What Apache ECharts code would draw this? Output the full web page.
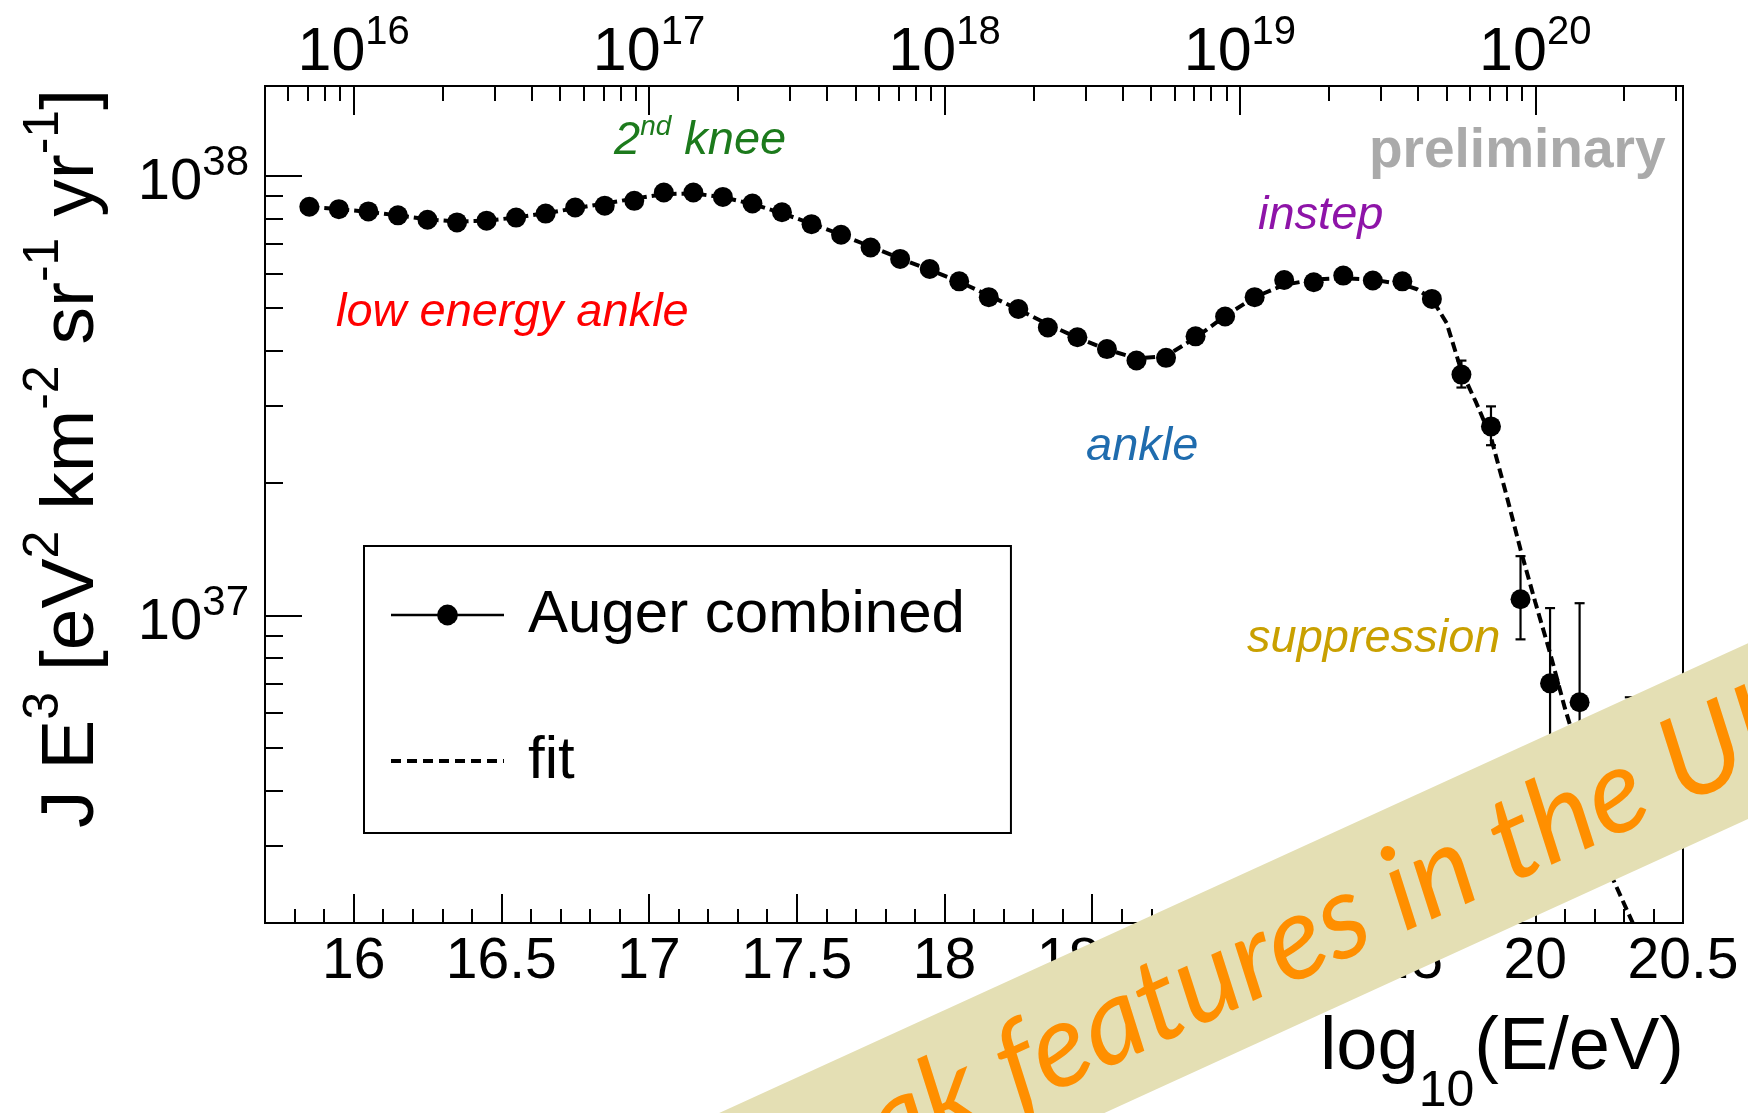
<!DOCTYPE html>
<html><head><meta charset="utf-8">
<script src="https://cdn.jsdelivr.net/npm/echarts@6/dist/echarts.min.js"></script>
<style>html,body{margin:0;padding:0;background:#fff}#c{width:1748px;height:1113px}</style>
</head><body><div id="c"></div>
<script>
// ---------- data (J E^3 in units of 1e37 eV^2 km^-2 sr^-1 yr^-1) ----------
const UNIT = 1e37;
const logE = [15.85,15.95,16.05,16.15,16.25,16.35,16.45,16.55,16.65,16.75,
              16.85,16.95,17.05,17.15,17.25,17.35,17.45,17.55,17.65,17.75,
              17.85,17.95,18.05,18.15,18.25,18.35,18.45,18.55,18.65,18.75,
              18.85,18.95,19.05,19.15,19.25,19.35,19.45,19.55,19.65,19.75,
              19.85,19.95,20.05,20.15,20.32];
const flux = [8.504,8.395,8.299,8.128,7.943,7.834,7.907,8.035,8.204,8.472,
              8.551,8.770,9.162,9.162,8.954,8.650,8.260,7.762,7.345,6.871,
              6.471,6.138,5.754,5.297,4.977,4.519,4.295,4.036,3.802,3.855,
              4.315,4.786,5.297,5.794,5.728,5.929,5.781,5.754,5.248,3.532,
              2.692,1.089,0.7015,0.6353,0.355];
const errLogE = [19.75,19.85,19.95,20.05,20.15,20.32];
const errLow  = [3.30,2.44,0.883,0.355,0.282,0.27];
const errHigh = [3.80,2.99,1.365,1.04,1.067,0.652];
const fitLogE = [15.85,15.95,16.05,16.15,16.25,16.35,16.45,16.55,16.65,16.75,
                 16.85,16.95,17.05,17.15,17.25,17.35,17.45,17.55,17.65,17.75,
                 17.85,17.95,18.05,18.15,18.25,18.35,18.45,18.55,18.65,18.75,
                 18.85,18.95,19.05,19.15,19.25,19.35,19.45,19.55,19.60,19.65,
                 19.70,19.75,19.80,19.85,19.90,19.95,20.00,20.05,20.10,20.15,
                 20.20,20.25,20.33];
const fitFlux = [8.492,8.395,8.279,8.128,7.962,7.870,7.907,8.035,8.222,8.433,
                 8.650,8.872,9.078,9.120,8.933,8.630,8.222,7.780,7.345,6.902,
                 6.486,6.109,5.741,5.346,4.966,4.592,4.285,4.027,3.846,3.890,
                 4.285,4.797,5.297,5.649,5.808,5.848,5.808,5.662,5.521,5.248,
                 4.624,3.597,3.048,2.541,1.905,1.413,1.072,0.8222,0.6166,0.4786,
                 0.3631,0.2630,0.2000];
// ---------- axis ticks / labels ----------
const xMajor = [16,16.5,17,17.5,18,18.5,19,19.5,20,20.5];
const topExp = [16,17,18,19,20];
const yExp = [37,38];
const X_MIN = 15.7, X_MAX = 20.5;
const Y_MIN = Math.log10(2e36), Y_MAX = Math.log10(1.6e38);

const xMinor = [];
for (let i = 158; i <= 205; i++) { if (i % 5 !== 0) xMinor.push(i / 10); }
const topMinor = [];
for (let n = 15; n <= 20; n++) for (let k = 2; k <= 9; k++) {
  const v = n + Math.log10(k); if (v > X_MIN && v < X_MAX) topMinor.push(v);
}
const yMinor = [];
for (let n = 36; n <= 38; n++) for (let k = 2; k <= 9; k++) {
  const v = n + Math.log10(k); if (v >= Y_MIN - 1e-9 && v < Y_MAX) yMinor.push(v);
}

const FONT = "'Liberation Sans', Arial, Helvetica, sans-serif";
const lg = v => Math.log10(v * UNIT);

const chart = echarts.init(document.getElementById('c'), null, {renderer: 'canvas'});

const tickStyle = {color: '#000', width: 2};
function baseAxis(extra) {
  return Object.assign({
    type: 'value', splitLine: {show: false},
    axisLine: {show: false, onZero: false},
  }, extra);
}

// band text measurement
const mctx = document.createElement('canvas').getContext('2d');
const bandFont = s => 'italic ' + s + 'px Lato, "DejaVu Sans", sans-serif';
mctx.font = bandFont(100);
const bandSize = 100 * 731 / mctx.measureText('features in the ').width;
mctx.font = bandFont(bandSize);
const bandPre = mctx.measureText('Break ').width;
const bandAngle = Math.atan(0.4567);

const annoStyle = (color) => ({fontFamily: FONT, fontStyle: 'italic', fontSize: 47, fill: color});

const option = {
  animation: false,
  backgroundColor: '#fff',
  grid: {left: 265, top: 86, width: 1418, height: 837, show: true,
         borderColor: '#000', borderWidth: 2, backgroundColor: 'transparent', containLabel: false},
  xAxis: [
    baseAxis({position: 'bottom', min: X_MIN, max: X_MAX,
      axisLine: {show: true, onZero: false, lineStyle: tickStyle},
      axisTick: {show: true, inside: true, length: 29, lineStyle: tickStyle, customValues: xMajor},
      axisLabel: {show: true, customValues: xMajor, margin: 11, color: '#000', fontFamily: FONT,
                  fontSize: 57, lineHeight: 57, formatter: v => String(v)}}),
    baseAxis({position: 'bottom', min: X_MIN, max: X_MAX,
      axisTick: {show: true, inside: true, length: 14, lineStyle: tickStyle, customValues: xMinor},
      axisLabel: {show: false}}),
    baseAxis({position: 'top', min: X_MIN, max: X_MAX,
      axisLine: {show: true, onZero: false, lineStyle: tickStyle},
      axisTick: {show: true, inside: true, length: 29, lineStyle: tickStyle, customValues: topExp},
      axisLabel: {show: true, customValues: topExp, margin: 2, color: '#000',
        formatter: v => '{b|10}{s|' + v + '}',
        rich: {b: {fontFamily: FONT, fontSize: 61, lineHeight: 62, color: '#000'},
               s: {fontFamily: FONT, fontSize: 40, lineHeight: 20, padding: [0, 0, 41, 0], color: '#000'}}}}),
    baseAxis({position: 'top', min: X_MIN, max: X_MAX,
      axisTick: {show: true, inside: true, length: 15, lineStyle: tickStyle, customValues: topMinor},
      axisLabel: {show: false}})
  ],
  yAxis: [
    baseAxis({position: 'left', min: Y_MIN, max: Y_MAX,
      axisLine: {show: true, onZero: false, lineStyle: tickStyle},
      axisTick: {show: true, inside: true, length: 37, lineStyle: tickStyle, customValues: yExp},
      axisLabel: {show: true, customValues: yExp, margin: 16, color: '#000',
        formatter: v => '{b|10}{s|' + v + '}',
        rich: {b: {fontFamily: FONT, fontSize: 58, lineHeight: 60, padding: [14, 0, 0, 0], color: '#000'},
               s: {fontFamily: FONT, fontSize: 42, lineHeight: 20, padding: [0, 0, 24, 0], color: '#000'}}}}),
    baseAxis({position: 'left', min: Y_MIN, max: Y_MAX,
      axisTick: {show: true, inside: true, length: 18, lineStyle: tickStyle, customValues: yMinor},
      axisLabel: {show: false}})
  ],
  legend: {
    orient: 'vertical', left: 364, top: 546, padding: [34, 46, 37, 25],
    itemWidth: 113, itemHeight: 26, itemGap: 76,
    borderColor: '#000', borderWidth: 2, backgroundColor: '#fff', borderRadius: 0,
    selectedMode: false,
    textStyle: {fontFamily: FONT, fontSize: 60, lineHeight: 70, color: '#000', padding: [0, 0, 0, 19]},
    data: [
      {name: 'Auger combined', lineStyle: {opacity: 1, width: 2.5, color: '#000', type: 'solid'}},
      {name: 'fit', itemStyle: {opacity: 0}, lineStyle: {opacity: 1, width: 4, color: '#000', type: [10, 6]}}
    ]
  },
  series: [
    {type: 'line', name: 'fit', xAxisIndex: 0, yAxisIndex: 0, z: 2, silent: true,
     symbol: 'none', showSymbol: false, clip: true,
     lineStyle: {color: '#000', width: 4, type: [10, 5]},
     data: fitLogE.map((x, i) => [x, lg(fitFlux[i])])},
    {type: 'custom', name: 'errors', xAxisIndex: 0, yAxisIndex: 0, z: 3, silent: true,
     encode: {x: 0, y: [1, 2]},
     data: errLogE.map((x, i) => [x, lg(errLow[i]), lg(errHigh[i])]),
     renderItem: (params, api) => {
       const x = api.value(0);
       const lo = api.coord([x, api.value(1)]);
       const hi = api.coord([x, api.value(2)]);
       const cw = 5, st = {stroke: '#000', lineWidth: 2.2};
       return {type: 'group', children: [
         {type: 'line', shape: {x1: lo[0], y1: lo[1], x2: hi[0], y2: hi[1]}, style: st},
         {type: 'line', shape: {x1: lo[0] - cw, y1: lo[1], x2: lo[0] + cw, y2: lo[1]}, style: st},
         {type: 'line', shape: {x1: hi[0] - cw, y1: hi[1], x2: hi[0] + cw, y2: hi[1]}, style: st}
       ]};
     }},
    {type: 'line', name: 'Auger combined', xAxisIndex: 0, yAxisIndex: 0, z: 4, silent: true,
     symbol: 'circle', symbolSize: 20, showSymbol: true, showAllSymbol: true,
     itemStyle: {color: '#000'}, lineStyle: {opacity: 0, width: 0},
     data: logE.map((x, i) => [x, lg(flux[i])])}
  ],
  graphic: [
    {type: 'text', x: 614, y: 141, z: 10, style: Object.assign(annoStyle('#1c7a1c'), {
      text: '{n|2}{s|nd}{n| knee}', verticalAlign: 'middle', align: 'left',
      rich: {n: {fontFamily: FONT, fontStyle: 'italic', fontSize: 47, lineHeight: 48, fill: '#1c7a1c'},
             s: {fontFamily: FONT, fontStyle: 'italic', fontSize: 28, lineHeight: 10, padding: [0, 0, 28, 0], fill: '#1c7a1c'}}})},
    {type: 'text', x: 336, y: 313, z: 10, style: Object.assign(annoStyle('#ff0000'), {text: 'low energy ankle', verticalAlign: 'middle'})},
    {type: 'text', x: 1086, y: 447, z: 10, style: Object.assign(annoStyle('#1f6cae'), {text: 'ankle', verticalAlign: 'middle'})},
    {type: 'text', x: 1258, y: 216, z: 10, style: Object.assign(annoStyle('#8e14a8'), {text: 'instep', verticalAlign: 'middle'})},
    {type: 'text', x: 1247, y: 639, z: 10, style: Object.assign(annoStyle('#c9a000'), {text: 'suppression', verticalAlign: 'middle'})},
    {type: 'text', x: 1369, y: 152, z: 10, style: {text: 'preliminary', fontFamily: FONT, fontWeight: 'bold', fontSize: 55,
      fill: '#aaaaaa', verticalAlign: 'middle'}},
    // axis titles
    {type: 'text', x: 1684, y: 1049, z: 10, style: {
      text: '{m|log}{d|10}{m|(E/eV)}', align: 'right', verticalAlign: 'middle',
      rich: {m: {fontFamily: FONT, fontSize: 74, lineHeight: 74, fill: '#000'},
             d: {fontFamily: FONT, fontSize: 50, lineHeight: 10, padding: [86, 0, 0, 0], fill: '#000'}}}},
    {type: 'text', x: 72, y: 89, rotation: Math.PI / 2, z: 10, style: {
      text: '{m|J E}{s|3}{m| [eV}{s|2}{m| km}{s|-2}{m| sr}{s|-1}{m| yr}{s|-1}{m|]}',
      align: 'right', verticalAlign: 'middle',
      rich: {m: {fontFamily: FONT, fontSize: 75, lineHeight: 75, fill: '#000'},
             s: {fontFamily: FONT, fontSize: 50, lineHeight: 10, padding: [0, 0, 56, 0], fill: '#000'}}}},
    // banner overlay
    {type: 'group', x: 1300, y: 935.7, rotation: bandAngle, z: 100, children: [
      {type: 'rect', z: 100, shape: {x: -1600, y: -80, width: 3200, height: 160}, style: {fill: '#e4dfb4'}},
      {type: 'text', z: 101, x: -330 - bandPre, y: 2, style: {
        text: 'Break features in the UHECR spectrum', font: bandFont(bandSize),
        fill: '#ff8f00', align: 'left', verticalAlign: 'middle'}}
    ]}
  ]
};
chart.setOption(option);
</script>
</body></html>
